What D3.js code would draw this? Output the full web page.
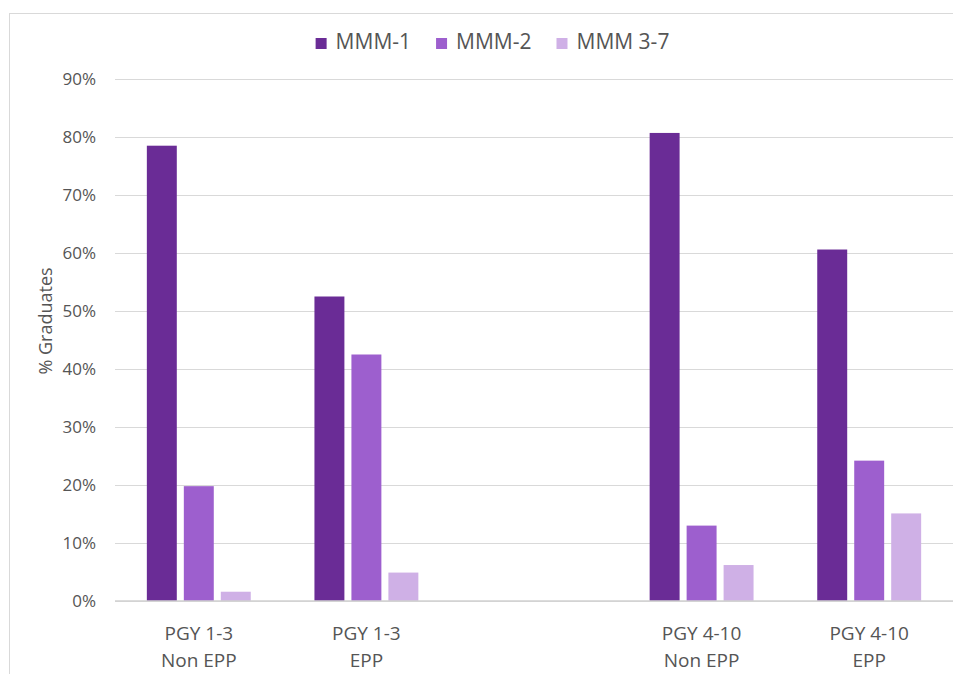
<!DOCTYPE html>
<html>
<head>
    <meta charset="UTF-8">
    <title>% Graduates by MMM</title>
    <script src="https://d3js.org/d3.v7.min.js"></script>
    <style>
        body {
            margin: 0;
            background: #fff;
        }
        svg text {
            font-family: "Open Sans", "Noto Sans", sans-serif;
            fill: #555555;
        }
        .tick-label {
            font-size: 17px;
        }
        .cat-label {
            font-size: 19px;
        }
        .legend-label {
            font-size: 21px;
        }
        .axis-title {
            font-size: 18px;
        }
    </style>
</head>
<body>
    <div id="chart"></div>

    <script>
        // categories (the empty slot keeps the gap between the two pairs)
        const categories = ["PGY 1-3|Non EPP", "PGY 1-3|EPP", "", "PGY 4-10|Non EPP", "PGY 4-10|EPP"];
        const seriesNames = ["MMM-1", "MMM-2", "MMM 3-7"];
        const seriesColors = ["#6a2c96", "#9d5fce", "#cfb0e6"];

        // values per series, in category order (null = empty slot)
        const mmm1 = [0.785, 0.525, null, 0.807, 0.606];
        const mmm2 = [0.198, 0.425, null, 0.130, 0.242];
        const mmm37 = [0.016, 0.049, null, 0.062, 0.151];

        const yTicks = [0, 0.1, 0.2, 0.3, 0.4, 0.5, 0.6, 0.7, 0.8, 0.9];

        const W = 953, H = 674;
        const plot = {left: 115, right: 953, top: 79, bottom: 601};

        const svg = d3.select("#chart")
            .append("svg")
            .attr("width", W)
            .attr("height", H);

        // outer chart border
        svg.append("rect")
            .attr("x", 9.5)
            .attr("y", 13.5)
            .attr("width", W + 10)
            .attr("height", H + 10)
            .attr("fill", "none")
            .attr("stroke", "#d9d9d9")
            .attr("stroke-width", 1);

        const x0 = d3.scaleBand()
            .domain(d3.range(categories.length))
            .range([plot.left, plot.right])
            .padding(0);

        const x1 = d3.scaleBand()
            .domain(d3.range(seriesNames.length))
            .range([x0.bandwidth() * 0.19, x0.bandwidth() * 0.81])
            .paddingInner(0.19);

        const y = d3.scaleLinear()
            .domain([0, 0.9])
            .range([plot.bottom, plot.top]);

        // gridlines + y labels
        const yAxis = d3.axisLeft(y)
            .tickValues(yTicks)
            .tickSize(-(plot.right - plot.left))
            .tickPadding(19)
            .tickFormat(d3.format(".0%"));

        const yg = svg.append("g")
            .attr("transform", `translate(${plot.left},0)`)
            .call(yAxis);
        yg.select(".domain").remove();
        yg.selectAll(".tick line")
            .attr("stroke", "#d9d9d9")
            .attr("stroke-width", 1.2);
        yg.selectAll(".tick text")
            .attr("class", "tick-label")
            .attr("font-family", null)
            .attr("font-size", null)
            .attr("fill", null);

        // bars
        const rows = categories.map((c, i) => ({
            index: i,
            values: [mmm1[i], mmm2[i], mmm37[i]]
        })).filter(d => d.values[0] !== null);

        const groups = svg.append("g")
            .selectAll("g")
            .data(rows)
            .join("g")
            .attr("transform", d => `translate(${x0(d.index)},0)`);

        groups.selectAll("rect")
            .data(d => d.values.map((v, k) => ({k, v})))
            .join("rect")
            .attr("x", d => x1(d.k))
            .attr("width", x1.bandwidth())
            .attr("y", d => y(d.v))
            .attr("height", d => y(0) - y(d.v))
            .attr("fill", d => seriesColors[d.k]);

        // baseline
        svg.append("line")
            .attr("x1", plot.left)
            .attr("x2", plot.right)
            .attr("y1", y(0))
            .attr("y2", y(0))
            .attr("stroke", "#d0d0d0")
            .attr("stroke-width", 1.3);

        // category labels (two lines)
        const cat = svg.append("g")
            .selectAll("text")
            .data(categories.map((c, i) => ({c, i})).filter(d => d.c))
            .join("text")
            .attr("class", "cat-label")
            .attr("text-anchor", "middle")
            .attr("x", d => x0(d.i) + x0.bandwidth() / 2)
            .attr("y", 640);
        cat.selectAll("tspan")
            .data(d => d.c.split("|").map(s => ({s, x: x0(d.i) + x0.bandwidth() / 2})))
            .join("tspan")
            .attr("x", d => d.x)
            .attr("dy", (d, j) => j === 0 ? 0 : 27)
            .text(d => d.s);

        // y axis title
        svg.append("text")
            .attr("class", "axis-title")
            .attr("text-anchor", "middle")
            .attr("transform", "translate(52,321) rotate(-90)")
            .text("% Graduates");

        // legend
        const legend = svg.append("g");
        let lx = 0;
        seriesNames.forEach((name, k) => {
            const item = legend.append("g").attr("transform", `translate(${lx},0)`);
            item.append("rect")
                .attr("x", 0)
                .attr("y", 38)
                .attr("width", 11)
                .attr("height", 11)
                .attr("fill", seriesColors[k]);
            const t = item.append("text")
                .attr("class", "legend-label")
                .attr("x", 20)
                .attr("y", 49)
                .text(name);
            lx += 20 + t.node().getComputedTextLength() + 25;
        });
        const legendWidth = lx - 25;
        legend.attr("transform", `translate(${492.5 - legendWidth / 2},0)`);
    </script>
</body>
</html>
